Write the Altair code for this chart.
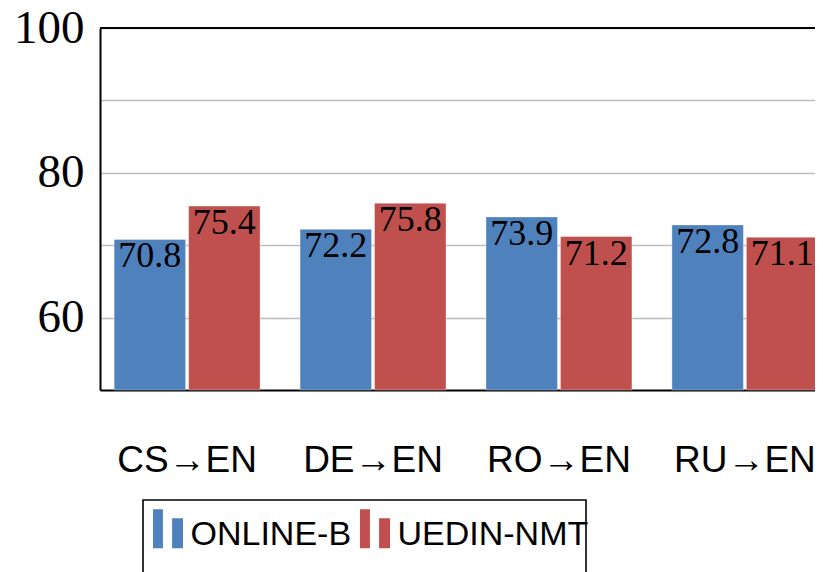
import altair as alt
import pandas as pd

categories = ["CS→EN", "DE→EN", "RO→EN", "RU→EN"]
systems = ["ONLINE-B", "UEDIN-NMT"]
online_b = [70.8, 72.2, 73.9, 72.8]
uedin_nmt = [75.4, 75.8, 71.2, 71.1]
colors = ["#4F81BD", "#C0504D"]

rows = []
for c, a, b in zip(categories, online_b, uedin_nmt):
    rows.append({"pair": c, "system": systems[0], "score": a})
    rows.append({"pair": c, "system": systems[1], "score": b})
df = pd.DataFrame(rows)

sym_path = ("M-0.77,-1.33 L-0.26,-1.33 L-0.26,0.67 L-0.77,0.67 Z "
            "M0.21,-0.87 L0.77,-0.87 L0.77,0.67 L0.21,0.67 Z")

x_enc = alt.X("pair:N", sort=categories,
              scale=alt.Scale(range=[0, 732], paddingInner=0.215, paddingOuter=0.076),
              axis=alt.Axis(title=None, labelAngle=0, ticks=False, domain=True,
                            domainColor="black", domainWidth=2,
                            labelFont="Liberation Sans", labelFontSize=37,
                            labelColor="black", labelPadding=52,
                            labelBaseline="top"))
y_scale = alt.Scale(domain=[50, 100], nice=False, zero=False)
xo_enc = alt.XOffset("system:N", sort=systems,
                     scale=alt.Scale(paddingInner=0.04, paddingOuter=0))

base = alt.Chart(df)

bars = base.mark_bar(stroke="white", strokeWidth=0.6, strokeOpacity=0.6).encode(
    x=x_enc,
    xOffset=xo_enc,
    y=alt.Y("score:Q", scale=y_scale,
            axis=alt.Axis(title=None, values=[60, 70, 80, 90, 100],
                          labelExpr="datum.value % 20 == 0 ? datum.label : ''",
                          ticks=False, domain=True, domainColor="black",
                          domainWidth=2, grid=True, gridColor="#bdbdbd",
                          gridWidth=1.3, labelFont="Liberation Serif",
                          labelFontSize=47, labelColor="black",
                          labelPadding=16)),
    y2=alt.datum(50),
    color=alt.Color("system:N", sort=systems,
                    scale=alt.Scale(domain=systems, range=colors),
                    legend=alt.Legend(orient="none", legendX=48.5, legendY=487.5,
                                      direction="horizontal", title=None,
                                      symbolType=sym_path, symbolSize=1521,
                                      symbolStrokeWidth=0, symbolOpacity=1,
                                      labelFont="Liberation Sans",
                                      labelFontSize=34, labelColor="black",
                                      labelOffset=3, columnPadding=4,
                                      padding=0, labelLimit=400)),
)

labels = base.mark_text(font="Liberation Serif", fontSize=36, color="black",
                        baseline="alphabetic", dy=28).encode(
    x=x_enc,
    xOffset=xo_enc,
    y=alt.Y("score:Q", scale=y_scale),
    text=alt.Text("score:Q", format=".1f"),
)

top_rule = alt.Chart(pd.DataFrame({"v": [100]})).mark_rule(
    color="black", strokeWidth=2).encode(y=alt.Y("v:Q", scale=y_scale))

legend_box = alt.Chart(pd.DataFrame({"k": [0]})).mark_rect(
    fill="white", fillOpacity=0, stroke="black", strokeWidth=1.6).encode(
    x=alt.value(43), x2=alt.value(486), y=alt.value(472), y2=alt.value(620))

chart = alt.layer(bars, labels, top_rule, legend_box).properties(
    width=715, height=362,
    autosize=alt.AutoSizeParams(type="none"),
    padding={"left": 92, "top": 20, "right": 0, "bottom": 182},
).configure_view(stroke="transparent", strokeWidth=0)

chart.save("out.html", embed_options={"renderer": "svg", "actions": False})
